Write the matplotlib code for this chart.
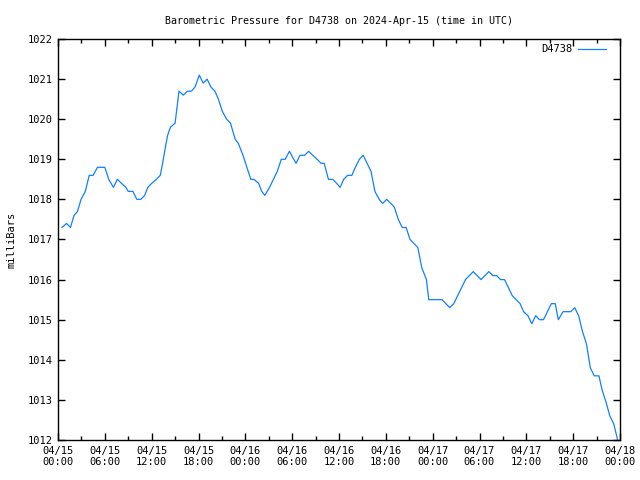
#!/usr/bin/env python3

# barometric pressure plot, gnuplot-like look

import datetime as dt
import numpy as np
import matplotlib
matplotlib.use("Agg")
import matplotlib.pyplot as plt
import matplotlib.dates as mdates
from matplotlib.ticker import MultipleLocator


# data: hours since 2024-04-15 00:00 UTC and pressure (mbar)

hours = [0.5, 1.1, 1.6, 2.05, 2.5, 2.95, 3.5, 4.0, 4.5, 5.05, 6.0, 6.5, 7.1, 7.6,
         8.15, 8.7, 9.0, 9.6, 10.1, 10.6, 11.1, 11.5, 12.0, 12.6, 13.1, 13.4,
         13.85, 14.05, 14.4, 15.0, 15.5, 16.05, 16.6, 17.1, 17.55, 18.1, 18.6,
         19.1, 19.6, 20.1, 20.55, 21.05, 21.6, 22.1, 22.7, 23.1, 23.7, 24.2,
         24.7, 25.1, 25.7, 26.1, 26.5, 27.1, 27.6, 28.1, 28.6, 29.1, 29.65,
         30.2, 30.5, 31.0, 31.6, 32.1, 32.65, 33.2, 33.7, 34.1, 34.65, 35.2,
         35.7, 36.15, 36.6, 37.1, 37.65, 38.1, 38.6, 39.1, 39.6, 40.1, 40.6,
         41.15, 41.6, 42.1, 42.65, 43.1, 43.6, 44.1, 44.6, 45.1, 45.6, 46.1,
         46.6, 47.2, 47.5, 49.2, 49.7, 50.2, 50.7, 51.2, 51.7, 52.2, 52.7,
         53.2, 53.7, 54.2, 54.7, 55.2, 55.7, 56.2, 56.7, 57.2, 57.7, 58.2,
         58.7, 59.2, 59.65, 60.2, 60.7, 61.2, 61.7, 62.2, 62.7, 63.2, 63.7,
         64.1, 64.7, 65.7, 66.2, 66.7, 67.2, 67.7, 68.2, 68.7, 69.3, 69.7,
         70.2, 70.7, 71.2, 71.7]

pressure = [1017.3, 1017.4, 1017.3, 1017.6, 1017.7, 1018.0, 1018.2, 1018.6, 1018.6,
            1018.8, 1018.8, 1018.5, 1018.3, 1018.5, 1018.4, 1018.3, 1018.2, 1018.2,
            1018.0, 1018.0, 1018.1, 1018.3, 1018.4, 1018.5, 1018.6, 1018.9, 1019.4,
            1019.6, 1019.8, 1019.9, 1020.7, 1020.6, 1020.7, 1020.7, 1020.8, 1021.1,
            1020.9, 1021.0, 1020.8, 1020.7, 1020.5, 1020.2, 1020.0, 1019.9, 1019.5,
            1019.4, 1019.1, 1018.8, 1018.5, 1018.5, 1018.4, 1018.2, 1018.1, 1018.3,
            1018.5, 1018.7, 1019.0, 1019.0, 1019.2, 1019.0, 1018.9, 1019.1, 1019.1,
            1019.2, 1019.1, 1019.0, 1018.9, 1018.9, 1018.5, 1018.5, 1018.4, 1018.3,
            1018.5, 1018.6, 1018.6, 1018.8, 1019.0, 1019.1, 1018.9, 1018.7, 1018.2,
            1018.0, 1017.9, 1018.0, 1017.9, 1017.8, 1017.5, 1017.3, 1017.3, 1017.0,
            1016.9, 1016.8, 1016.3, 1016.0, 1015.5, 1015.5, 1015.4, 1015.3, 1015.4,
            1015.6, 1015.8, 1016.0, 1016.1, 1016.2, 1016.1, 1016.0, 1016.1, 1016.2,
            1016.1, 1016.1, 1016.0, 1016.0, 1015.8, 1015.6, 1015.5, 1015.4, 1015.2,
            1015.1, 1014.9, 1015.1, 1015.0, 1015.0, 1015.2, 1015.4, 1015.4, 1015.0,
            1015.2, 1015.2, 1015.3, 1015.1, 1014.7, 1014.4, 1013.8, 1013.6, 1013.6,
            1013.25, 1012.95, 1012.6, 1012.4, 1012.0]

station = "D4738"
start = dt.datetime(2024, 4, 15)
times = [start + dt.timedelta(hours=h) for h in hours]


# figure

plt.rcParams['font.family'] = ['DejaVu Sans Mono']
plt.rcParams['font.size'] = 7.5

fig = plt.figure(figsize=(6.4, 4.8), dpi=100)
ax = fig.add_axes([58 / 640, 40 / 480, 562 / 640, 401 / 480])

ax.plot(times, pressure, color="#1080ff", lw=0.9, label=station)

ax.set_xlim(start, start + dt.timedelta(hours=72))
ax.set_ylim(1012, 1022)

ax.xaxis.set_major_locator(mdates.HourLocator(byhour=[0, 6, 12, 18]))
ax.xaxis.set_minor_locator(mdates.HourLocator(byhour=[3, 9, 15, 21]))
ax.xaxis.set_major_formatter(mdates.DateFormatter("%m/%d\n%H:%M"))
ax.yaxis.set_major_locator(MultipleLocator(1))

ax.tick_params(which="both", direction="in", top=True, right=True, width=1)
ax.tick_params(which="major", length=5, pad=4)
ax.tick_params(which="minor", length=3)
for s in ax.spines.values():
    s.set_linewidth(1)

ax.set_title("Barometric Pressure for D4738 on 2024-Apr-15 (time in UTC)",
             fontsize=7.2, pad=11)
ax.set_ylabel("milliBars", labelpad=8)

ax.legend(loc="upper right", bbox_to_anchor=(0.9826, 0.9975), frameon=False,
          markerfirst=False, handlelength=2.7, borderaxespad=0,
          handletextpad=0.55)

plt.savefig("out.png", dpi=100)
